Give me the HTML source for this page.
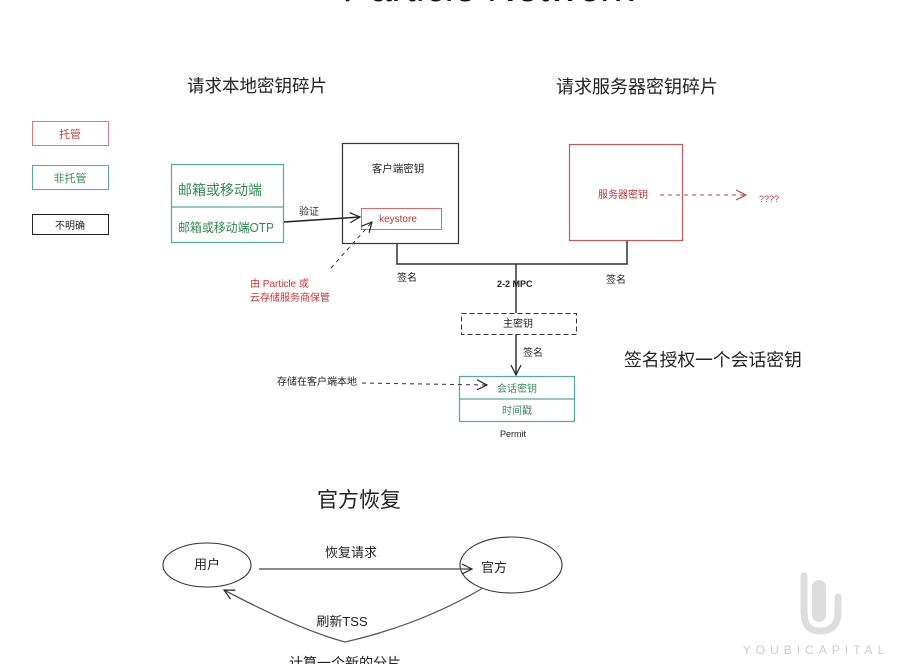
<!DOCTYPE html>
<html><head><meta charset="utf-8">
<style>
html,body{margin:0;padding:0;background:#fff;}
svg{display:block;font-family:"Liberation Sans","Noto Sans CJK SC",sans-serif;}
</style></head>
<body>
<svg width="915" height="664" viewBox="0 0 915 664" xmlns="http://www.w3.org/2000/svg">
<defs>
<marker id="chev" viewBox="0 0 12 12" refX="11" refY="6" markerWidth="12" markerHeight="12" markerUnits="userSpaceOnUse" orient="auto">
<path d="M1 1 L11 6 L1 11" fill="none" stroke="#222" stroke-width="1.2"/>
</marker>
<marker id="chevr" viewBox="0 0 12 12" refX="11" refY="6" markerWidth="12" markerHeight="12" markerUnits="userSpaceOnUse" orient="auto">
<path d="M1 1 L11 6 L1 11" fill="none" stroke="#b44" stroke-width="1.2"/>
</marker>
</defs>
<rect width="915" height="664" fill="#fff"/>

<!-- cut-off title -->
<text x="490" y="1" font-size="40" text-anchor="middle" fill="#111" font-family="Liberation Sans, sans-serif" font-style="italic">Particle Network</text>

<!-- section titles -->
<text x="257" y="92" font-size="17.5" text-anchor="middle" fill="#222">请求本地密钥碎片</text>
<text x="637" y="93" font-size="18" text-anchor="middle" fill="#222">请求服务器密钥碎片</text>

<!-- legend -->
<rect x="32.5" y="121.5" width="76" height="24" fill="none" stroke="#d77" stroke-width="1"/>
<text x="70" y="138" font-size="11" text-anchor="middle" fill="#b44">托管</text>
<rect x="32.5" y="165.5" width="76" height="24" fill="none" stroke="#5a9" stroke-width="1"/>
<text x="70" y="182" font-size="11" text-anchor="middle" fill="#3a8a5a">非托管</text>
<rect x="32.5" y="214.5" width="76" height="20" fill="none" stroke="#222" stroke-width="1"/>
<text x="70" y="229" font-size="10" text-anchor="middle" fill="#222">不明确</text>

<!-- green box -->
<rect x="171.5" y="164.5" width="112" height="78" fill="none" stroke="#5a9" stroke-width="1.2"/>
<line x1="171" y1="207" x2="283" y2="207" stroke="#5a9" stroke-width="1.2"/>
<text x="178" y="195" font-size="14" fill="#2f8a4f">邮箱或移动端</text>
<text x="178" y="232" font-size="12.5" fill="#2f8a4f" textLength="96" lengthAdjust="spacingAndGlyphs">邮箱或移动端OTP</text>

<!-- verify arrow -->
<line x1="284" y1="222" x2="360" y2="217" stroke="#222" stroke-width="1.6" marker-end="url(#chev)"/>
<text x="299" y="215" font-size="10" fill="#333">验证</text>

<!-- client key box -->
<rect x="342.5" y="143.5" width="116" height="100" fill="none" stroke="#333" stroke-width="1.2"/>
<text x="398" y="172" font-size="10.5" text-anchor="middle" fill="#222">客户端密钥</text>
<rect x="361.5" y="208.5" width="80" height="21" fill="none" stroke="#d66" stroke-width="1"/>
<text x="398" y="222" font-size="10" text-anchor="middle" fill="#b33">keystore</text>

<!-- dashed arrow to keystore -->
<line x1="331" y1="268" x2="372" y2="222" stroke="#333" stroke-width="1" stroke-dasharray="4,4" marker-end="url(#chev)"/>
<text x="250" y="287" font-size="10" fill="#c33">由 Particle 或</text>
<text x="250" y="301" font-size="10" fill="#c33">云存储服务商保管</text>

<!-- server box -->
<rect x="569.5" y="144.5" width="113" height="96" fill="none" stroke="#c55" stroke-width="1.2"/>
<text x="598" y="198" font-size="10" fill="#b33">服务器密钥</text>
<line x1="660" y1="195" x2="746" y2="195" stroke="#b44" stroke-width="1" stroke-dasharray="4,4" marker-end="url(#chevr)"/>
<text x="759" y="202" font-size="9" fill="#b33">????</text>

<!-- MPC connectors -->
<polyline points="397,243 397,264 627,264 627,241" fill="none" stroke="#333" stroke-width="1.5"/>
<line x1="516" y1="264" x2="516" y2="313" stroke="#333" stroke-width="1.5"/>
<text x="397" y="281" font-size="10" fill="#222">签名</text>
<text x="606" y="283" font-size="10" fill="#222">签名</text>
<text x="497" y="287" font-size="9" font-weight="bold" fill="#222">2-2 MPC</text>

<!-- master key dashed box -->
<rect x="461.5" y="313.5" width="115" height="21" fill="none" stroke="#333" stroke-width="1" stroke-dasharray="5,3"/>
<text x="518" y="327" font-size="10" text-anchor="middle" fill="#222">主密钥</text>

<!-- sign arrow down -->
<line x1="516" y1="335" x2="516" y2="375" stroke="#333" stroke-width="1.5" marker-end="url(#chev)"/>
<text x="523" y="356" font-size="10" fill="#222">签名</text>

<!-- permit box -->
<rect x="459.5" y="376.5" width="115" height="45" fill="none" stroke="#5a9" stroke-width="1.2"/>
<line x1="459" y1="399" x2="575" y2="399" stroke="#5a9" stroke-width="1.2"/>
<text x="517" y="392" font-size="10" text-anchor="middle" fill="#3a8a5a">会话密钥</text>
<text x="517" y="414" font-size="10" text-anchor="middle" fill="#3a8a5a">时间戳</text>
<text x="513" y="437" font-size="9" text-anchor="middle" fill="#222">Permit</text>

<!-- store locally arrow -->
<text x="277" y="385" font-size="10" fill="#222">存储在客户端本地</text>
<line x1="362" y1="383" x2="487" y2="385" stroke="#333" stroke-width="1" stroke-dasharray="4,4" marker-end="url(#chev)"/>

<text x="624" y="366" font-size="17.8" fill="#222">签名授权一个会话密钥</text>

<!-- official recovery -->
<text x="359" y="507" font-size="21" text-anchor="middle" fill="#222">官方恢复</text>
<ellipse cx="207" cy="565" rx="44" ry="22" fill="none" stroke="#333" stroke-width="1.1"/>
<text x="207" y="569" font-size="13" text-anchor="middle" fill="#222">用户</text>
<ellipse cx="511" cy="565" rx="51" ry="28" fill="none" stroke="#333" stroke-width="1.1"/>
<text x="494" y="572" font-size="13" text-anchor="middle" fill="#222">官方</text>
<line x1="259" y1="569" x2="472" y2="569" stroke="#444" stroke-width="1.3" marker-end="url(#chev)"/>
<text x="351" y="557" font-size="13" text-anchor="middle" fill="#222">恢复请求</text>
<path d="M483 588 Q420 625 345 642 Q300 630 224 590" fill="none" stroke="#555" stroke-width="1.3" marker-end="url(#chev)"/>
<text x="342" y="626" font-size="13" text-anchor="middle" fill="#222">刷新TSS</text>
<text x="345" y="668" font-size="14" text-anchor="middle" fill="#222">计算一个新的分片</text>

<!-- watermark -->
<path d="M804 576 L804 612 Q804 631 820 631 Q838 631 838 612 L838 597" fill="none" stroke="#ddd" stroke-width="7" stroke-linecap="round"/>
<rect x="812" y="580" width="14" height="42" rx="7" fill="#ddd"/>
<text x="816" y="654" font-size="12" text-anchor="middle" fill="#ccc" letter-spacing="5" font-family="Liberation Sans, sans-serif">YOUBICAPITAL</text>
</svg>
</body></html>
